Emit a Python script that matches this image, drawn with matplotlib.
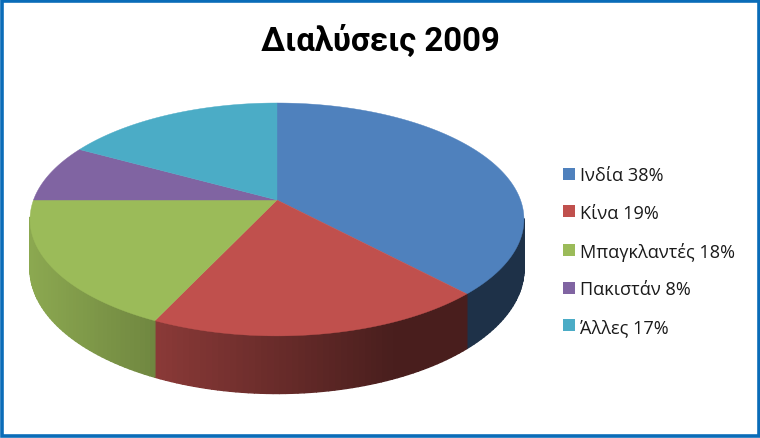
import numpy as np
import matplotlib
matplotlib.use('Agg')
import matplotlib.pyplot as plt
from matplotlib.collections import PolyCollection
from matplotlib.patches import Patch, Rectangle

title = 'Διαλύσεις 2009'
names = ['Ινδία', 'Κίνα', 'Μπαγκλαντές', 'Πακιστάν', 'Άλλες']
shares = [38, 19, 18, 8, 17]
colors = ['#4F81BD', '#C0504D', '#9BBB59', '#8064A2', '#4BACC6']

W, H = 760, 439
cx, cy = 277, 201       # apex of the slices, px
a, b, k = 243.5, 113.2, 0.167   # perspective ellipse
depth = 48

plt.rcParams['font.family'] = ['Open Sans', 'DejaVu Sans']


def project(share_pos):
    # share_pos in percent, clockwise from the top
    th = np.radians(np.asarray(share_pos, dtype=float) * 3.6)
    X, Y = np.sin(th), np.cos(th)
    w = 1 + k * Y
    return cx + a * X / w, cy - b * Y / w, depth / w, Y


def shade(x):
    return np.clip(0.72 - (x - 155) * 0.00143, 0.38, 0.92)


fig = plt.figure(figsize=(W / 100, H / 100), dpi=100, facecolor='white')
ax = fig.add_axes([0, 0, 1, 1])
ax.set_xlim(0, W)
ax.set_ylim(H, 0)
ax.axis('off')

edges = np.cumsum([0] + shares)

# side wall first, only the front part that can be seen
for i, col in enumerate(colors):
    t = np.linspace(edges[i], edges[i + 1], max(2, shares[i] * 3))
    x, y, d, Y = project(t)
    quads, fc = [], []
    base = np.array(matplotlib.colors.to_rgb(col))
    for j in range(len(t) - 1):
        if Y[j] > -k and Y[j + 1] > -k:
            continue
        quads.append([(x[j], y[j]), (x[j + 1], y[j + 1]),
                      (x[j + 1], y[j + 1] + d[j + 1]), (x[j], y[j] + d[j])])
        fc.append(base * shade((x[j] + x[j + 1]) / 2))
    if quads:
        ax.add_collection(PolyCollection(quads, facecolors=fc, edgecolors=fc, linewidths=1.0))

for i, col in enumerate(colors):
    t = np.linspace(edges[i], edges[i + 1], max(2, shares[i] * 6))
    x, y, d, Y = project(t)
    ax.fill(np.r_[cx, x], np.r_[cy, y], color=col, lw=0.3)

ax.text(380, 41, title, ha='center', va='center', fontsize=23.8, fontweight='bold',
        family=['Roboto', 'DejaVu Sans'], color='black')

handles = [Patch(facecolor=c, edgecolor='none') for c in colors]
labels = [f'{n} {s}%' for n, s in zip(names, shares)]
ax.legend(handles, labels, loc='center left', bbox_to_anchor=(563 / W, 1 - 252 / H),
          frameon=False, fontsize=13.1, labelspacing=1.08, handlelength=0.64, handleheight=0.64,
          handletextpad=0.32, borderpad=0, borderaxespad=0, labelcolor='#1a1a1a')

# blue frame round the picture
ax.add_patch(Rectangle((1.5, 1.5), W - 3, H - 3, fill=False, ec='#0A6CB8', lw=2.6))

fig.savefig('out.png', dpi=100)
